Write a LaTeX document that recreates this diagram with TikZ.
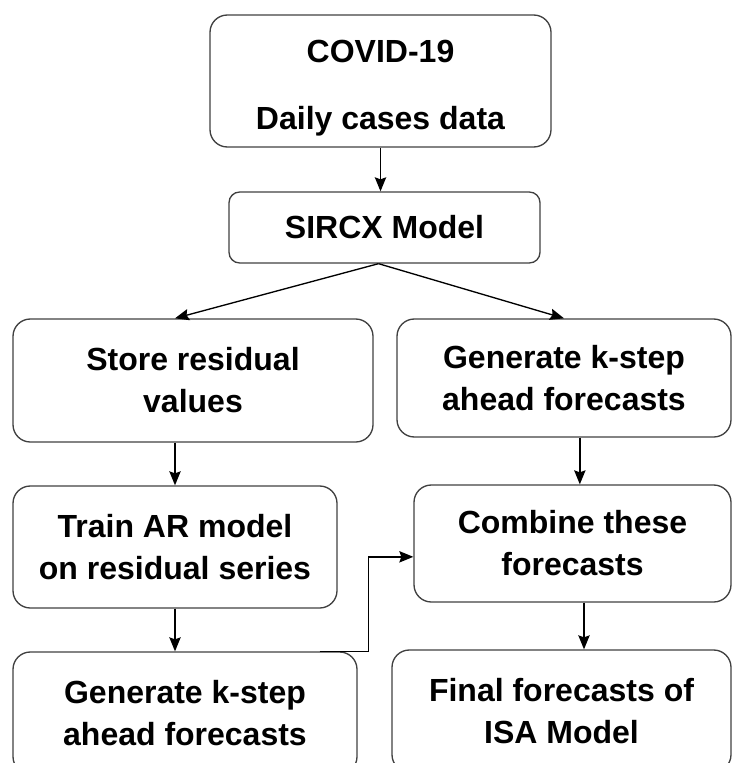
\documentclass[tikz,border=0pt]{standalone}
\usepackage{fontspec}
\setmainfont{Liberation Sans}
\usetikzlibrary{arrows.meta,positioning,calc}
\newcommand{\pxu}{0.75pt}

\begin{document}
\begin{tikzpicture}[x=0.75pt, y=-0.75pt,
    box/.style={draw=black!75, line width=1pt, rounded corners=13pt, inner sep=0pt,
        align=center, font=\fontsize{24}{31.5}\selectfont\bfseries},
    flow/.style={-{Stealth[length=10.5pt, width=8.5pt, inset=1.5pt]}, line width=1pt}]
    \clip (0,0) rectangle (732,763);

    % --- Data and the SIRCX fit ---
    \node[box, minimum width=341*\pxu, minimum height=132*\pxu] (data) at (380.5,81)
        {\rule{0pt}{27pt}COVID-19\\[18.5pt]Daily cases data};
    \node[box, rounded corners=8pt, minimum width=311*\pxu, minimum height=71*\pxu] (sircx) at (384.5,227.5)
        {SIRCX Model};

    % --- Left branch: residuals ---
    \node[box, minimum width=360*\pxu, minimum height=123*\pxu] (store) at (193,380.5)
        {Store residual\\values};
    \node[box, minimum width=324*\pxu, minimum height=122*\pxu] (train) at (175,547)
        {Train AR model\\on residual series};
    \node[box, minimum width=344*\pxu, minimum height=122*\pxu] (resfc) at (185,713)
        {Generate k-step\\ahead forecasts};

    % --- Right branch: model forecasts ---
    \node[box, minimum width=334*\pxu, minimum height=118*\pxu] (sircxfc) at (564,378)
        {Generate k-step\\ahead forecasts};
    \node[box, minimum width=317*\pxu, minimum height=117*\pxu] (combine) at (572.5,543.5)
        {Combine these\\forecasts};
    \node[box, minimum width=339*\pxu, minimum height=122*\pxu] (final) at (561.5,711)
        {Final forecasts of\\ISA Model};

    % arrow ends
    \coordinate (split) at ([xshift=-4.5pt]sircx.south);
    \coordinate (combin) at ([xshift=5.5pt]combine.north);
    \coordinate (combout) at (combine.south -| {$(final.north)+(22.5,0)$});
    \coordinate (resout) at ([xshift=-28.5pt]resfc.north east);

    % Arrows
    \draw[flow] (data.south) -- (data.south |- sircx.north);
    \draw[flow] (split) -- (store.north -| train.north);
    \draw[flow] (split) -- (sircxfc.north);
    \draw[flow] (store.south -| train.north) -- (train.north);
    \draw[flow] (train.south) -- (train.south |- resfc.north);
    \draw[flow] (sircxfc.south -| combin) -- (combin);
    \draw[flow] (resout) -- ++(49,0) |- ([yshift=-10pt]combine.west);
    \draw[flow] (combout) -- (combout |- final.north);
\end{tikzpicture}
\end{document}
